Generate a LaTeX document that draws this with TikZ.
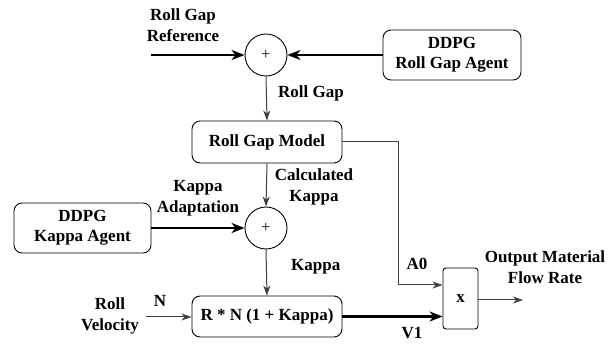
\documentclass[tikz,border=0pt]{standalone}
\usepackage{fontspec}
\setmainfont{Liberation Serif}
\usetikzlibrary{arrows.meta}
\begin{document}
\begin{tikzpicture}[x=1pt,y=-1pt,
  lbl/.style={font=\fontsize{17}{21}\selectfont\bfseries, align=center, inner sep=0pt},
  blk/.style={draw, rounded corners=8pt, line width=0.9pt, font=\fontsize{17}{20}\selectfont\bfseries, align=center, inner sep=0pt},
  sumc/.style={draw, circle, minimum size=42pt, inner sep=0pt, line width=0.9pt, font=\fontsize{16}{18}\selectfont},
  thinarr/.style={draw=black!75, line width=1pt, -{Stealth[length=10pt,width=7pt,inset=3pt]}},
  thinln/.style={draw=black!75, line width=1pt},
  thickarr/.style={draw=black, line width=2.2pt, -{Stealth[length=13pt,width=10pt,inset=4pt]}}
]
\useasboundingbox (0,0) rectangle (616,344);
% blocks
\node[sumc] (s1) at (266,55) {+};
\node[blk, minimum width=138pt, minimum height=50pt] (rga) at (452,55) {DDPG\\ Roll Gap Agent};
\node[blk, minimum width=150pt, minimum height=42pt] (rgm) at (267,142) {Roll Gap Model};
\node[sumc] (s2) at (266,228) {+};
\node[blk, minimum width=137pt, minimum height=50pt] (ka) at (82.5,228) {DDPG\\ Kappa Agent};
\node[blk, minimum width=150pt, minimum height=41pt] (rn) at (267,316.5) {R * N (1 + Kappa)};
\node[draw, rounded corners=3pt, line width=0.9pt, minimum width=35pt, minimum height=61pt, inner sep=0pt, font=\fontsize{17}{20}\selectfont\bfseries] (mul) at (460.5,298.5) {x};
% free ends
\coordinate (refin) at (151,55);
\coordinate (velin) at (146,317);
\coordinate (outend) at (523,300);
\coordinate (bend) at (398,142);
\coordinate (a0y) at (0,285);
% labels
\node[lbl] (lref) at (183,25) {Roll Gap\\ Reference};
\node[lbl, anchor=west] (lrg) at (278,93) {Roll Gap};
\node[lbl] (lck) at (314,187) {Calculated\\ Kappa};
\node[lbl] (lka) at (198,198) {Kappa\\ Adaptation};
\node[lbl, anchor=west] (lk) at (291,267) {Kappa};
\node[lbl] (lrv) at (110,316) {Roll\\ Velocity};
\node[lbl] (ln) at (160,301) {N};
\node[lbl] (lv1) at (412,333) {V1};
\node[lbl] (la0) at (417,264) {A0};
\node[lbl] (lout) at (545,267) {Output Material\\ Flow Rate};
% connectors
\draw[thickarr] (refin) -- (s1.west);
\draw[thickarr] (rga.west) -- (s1.east);
\draw[thinarr] (s1.south) -- (rgm.north);
\draw[thinarr] (rgm.south) -- (s2.north);
\draw[thickarr] (ka.east) -- (s2.west);
\draw[thinarr] (s2.south) -- (rn.north);
\draw[thinarr] (velin) -- (velin -| rn.west);
\draw[thickarr] (rn.east) -- (rn.east -| mul.west);
\draw[thinarr] (rgm.east) -- (bend) |- (a0y -| mul.west);
\draw[thinarr] (mul.east |- outend) -- (outend);
\end{tikzpicture}
\end{document}
